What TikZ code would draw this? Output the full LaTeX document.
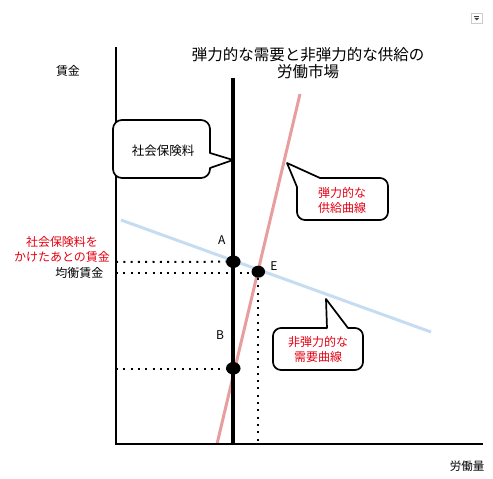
\documentclass[tikz,border=0pt]{standalone}
\usepackage{fontspec}
\setmainfont{Noto Sans CJK JP}
\usetikzlibrary{shapes.geometric}
\definecolor{pinkline}{RGB}{232,158,158}
\definecolor{blueline}{RGB}{198,220,240}
\definecolor{redtxt}{RGB}{228,0,18}
\begin{document}
\begin{tikzpicture}[x=1pt,y=-1pt,
  lbl/.style={font=\fontsize{12}{15}\selectfont, inner sep=0pt, align=center},
  redlbl/.style={lbl, text=redtxt},
  axisline/.style={line width=2.8pt},
  dotline/.style={line width=2pt, dash pattern=on 2pt off 5.3pt},
  bigdot/.style={ellipse, fill=black, minimum width=14.5pt, minimum height=12.5pt, inner sep=0pt},
  callout/.style={draw=black, fill=white, line width=1.7pt, line cap=round, line join=round}]
\useasboundingbox (0,0) rectangle (493,479);
% coordinates
\coordinate (O) at (116,444);
\coordinate (ytop) at (116,47);
\coordinate (xend) at (483,444);
\coordinate (vtop) at (233,78);
\coordinate (vbot) at (233,444);
\coordinate (s1) at (217,444);
\coordinate (s2) at (300,94);
\coordinate (d1) at (121,220);
\coordinate (d2) at (431,332);
\coordinate (Ly1) at (116,262);
\coordinate (Ly2) at (116,272.5);
\coordinate (Ly3) at (116,369);
\coordinate (Ex) at (258.3,444);
% title
\node[lbl, font=\fontsize{15.5}{17}\selectfont] (title) at (308,63.5) {弾力的な需要と非弾力的な供給の\\労働市場};
% curves
\draw[blueline, line width=3pt] (d1) -- (d2);
\draw[pinkline, line width=3pt] (s1) -- (s2);
% axes
\draw[axisline] (ytop) -- (O) -- (xend);
\draw[line width=3.2pt] (vtop) -- (vbot);
% points
\node[bigdot] (A) at (233.3,261.7) {};
\node[bigdot, minimum width=13.5pt, minimum height=12pt] (E) at (258.3,271.7) {};
\node[bigdot] (B) at (233.3,368.3) {};
% dotted lines
\draw[dotline] (Ly1) -- (A.west);
\draw[dotline] (Ly2) -- (E.west |- Ly2);
\draw[dotline] (Ly3) -- (B.west |- Ly3);
\draw[dotline] (E.south) -- (Ex);
% point labels
\node[lbl] (labA) at (221.7,240) {A};
\node[lbl] (labE) at (274,266) {E};
\node[lbl] (labB) at (220,335) {B};
% axis labels
\node[lbl] (wage) at (68,71) {賃金};
\node[lbl, font=\fontsize{11.5}{14}\selectfont] (labor) at (467,466) {労働量};
\node[lbl, anchor=east] (eqwage) at (103.5,273) {均衡賃金};
\node[redlbl] (taxwage) at (62,249.5) {社会保険料を\\かけたあとの賃金};
% callout 1
\draw[callout] (210,168) -- (233,160) -- (210,153) [rounded corners=9pt] -- (210,120) -- (113,120) -- (113,178) -- (210,178) -- (210,168);
\node[lbl, font=\fontsize{12.5}{15}\selectfont] (c1) at (163,151) {社会保険料};
% callout 2
\draw[callout] (320,178) -- (287,163) -- (297,187) [rounded corners=8pt] -- (297,220) -- (388,220) -- (388,178) -- (320,178);
\node[redlbl] (c2) at (342,200) {弾力的な\\供給曲線};
% callout 3
\draw[callout] (327,328) -- (326,299) -- (348,328) [rounded corners=8pt] -- (363,328) -- (363,370) -- (273,370) -- (273,328) -- (327,328);
\node[redlbl] (c3) at (318,349.5) {非弾力的な\\需要曲線};
% top-right icon
\draw[gray!40, line width=0.8pt] (471.5,13) rectangle (482,23.5) coordinate (iconbox);
\draw[black!75, line width=0.9pt] (474.3,16.3) -- (479.2,16.3);
\fill[black!75] (474.3,17.8) -- (479.2,17.8) -- (476.75,20.5) -- cycle;
\end{tikzpicture}
\end{document}
